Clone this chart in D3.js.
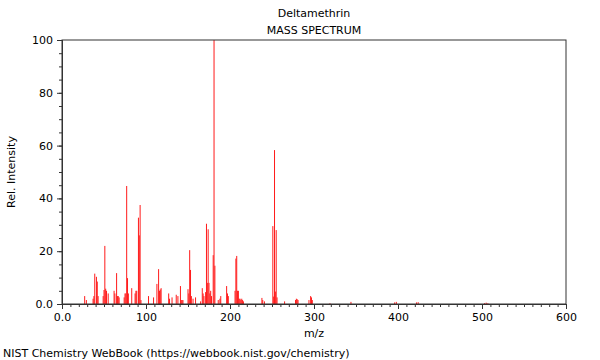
<!DOCTYPE html>
<html><head><meta charset="utf-8">
<script src="https://cdn.jsdelivr.net/npm/d3@7"></script>
<style>body{margin:0;background:#fff}svg{display:block}text{font-family:"DejaVu Sans",sans-serif;fill:#000}</style>
</head><body><svg id="c" width="600" height="360"></svg>
<script>
const mz = [27,29,37,38,39,41,42,43,49,50,51,52,53,55,62,63,65,66,67,68,74,75,76,77,78,79,83,87,88,89,91,92,93,94,103,109,113,115,116,117,118,127,128,131,136,138,141,142,143,144,150,151,152,153,154,156,159,165,167,168,169,171,172,173,174,175,176,177,178,180,181,182,186,188,189,196,197,198,206,207,208,209,210,211,212,213,214,215,216,238,239,241,251,252,253,254,255,256,265,278,279,280,281,294,296,297,298,319,344,396,398,422,424,503,505,507];
const intensity = [3,1.5,2,3,11.5,10.3,8.5,3,3,5.3,22,5.8,5,4,5,4,11.7,3,3,2.5,2.5,4,4,44.7,9.8,4,6,4,5,5,32.7,26,37.5,1.5,3,2.5,7.6,13.2,5,5.5,6,4,2,2.5,3.5,3,6.8,1.5,1.5,1.5,5.6,4,20.4,12.9,3,2,2.5,1,6,4,3,4.5,30.4,8,28.3,8,4,5,3,18.5,100,14.5,1.5,2,3,6.8,4,3,5,17.2,18.2,5,5,2,2,1.5,2,1.5,1,2.3,1.5,1,29.5,2.8,58.3,4.7,28,2.5,1,1.5,2,1.8,1.5,1.5,3,2.5,1.5,0.3,0.8,0.6,0.8,0.6,0.7,0.3,0.5,0.3];
const xTicks = [0,100,200,300,400,500,600];
const yTicks = [0,20,40,60,80,100];

const svg = d3.select("#c");
const L=62,R=566,T=40,B=304;
const x = d3.scaleLinear().domain([0,600]).range([L,R]);
const y = d3.scaleLinear().domain([0,100]).range([B,T]);
const axisCol="#333";

svg.append("g").selectAll("line").data(mz).join("line")
  .attr("x1",(d)=>x(d)).attr("x2",(d)=>x(d))
  .attr("y1",y(0)).attr("y2",(d,i)=>y(intensity[i]))
  .attr("stroke","#ff1a1a").attr("stroke-width",1);

// frame
svg.append("rect").attr("x",L).attr("y",T).attr("width",R-L).attr("height",B-T)
  .attr("fill","none").attr("stroke",axisCol).attr("stroke-width",1);

const fmt = d=> d===0 ? "0.0" : String(d);
// x axis
const gx = svg.append("g").attr("transform",`translate(0,${B})`);
gx.call(d3.axisBottom(x).tickValues(d3.range(0,601,10)).tickSize(3).tickFormat(""));
gx.append("g").call(d3.axisBottom(x).tickValues(xTicks).tickSize(5).tickFormat(fmt).tickPadding(4));
gx.selectAll(".domain").attr("stroke",axisCol);
gx.selectAll("line").attr("stroke",axisCol);
gx.selectAll("text").attr("font-size",11).style("font-family","DejaVu Sans");
// y axis
const gy = svg.append("g").attr("transform",`translate(${L},0)`);
gy.call(d3.axisLeft(y).tickValues(d3.range(0,101,5)).tickSize(3).tickFormat(""));
gy.append("g").call(d3.axisLeft(y).tickValues(yTicks).tickSize(5).tickFormat(fmt).tickPadding(4));
gy.selectAll(".domain").attr("stroke",axisCol);
gy.selectAll("line").attr("stroke",axisCol);
gy.selectAll("text").attr("font-size",11).style("font-family","DejaVu Sans");

const cx=(L+R)/2;
svg.append("text").attr("x",cx).attr("y",17).attr("text-anchor","middle").attr("font-size",11).text("Deltamethrin");
svg.append("text").attr("x",cx).attr("y",34).attr("text-anchor","middle").attr("font-size",11).text("MASS SPECTRUM");
svg.append("text").attr("x",cx).attr("y",337).attr("text-anchor","middle").attr("font-size",11).text("m/z");
svg.append("text").attr("transform",`translate(15,${(T+B)/2}) rotate(-90)`).attr("text-anchor","middle").attr("font-size",11).text("Rel. Intensity");
svg.append("text").attr("x",3).attr("y",357).attr("font-size",11).text("NIST Chemistry WebBook (https://webbook.nist.gov/chemistry)");
</script></body></html>
